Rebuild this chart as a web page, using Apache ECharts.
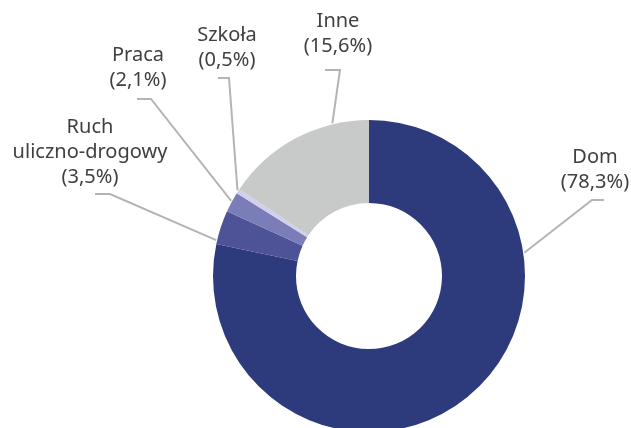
<!DOCTYPE html>
<html>
<head>
<meta charset="utf-8">
<script src="https://cdn.jsdelivr.net/npm/echarts@6/dist/echarts.min.js"></script>
<style>
  html, body { margin: 0; padding: 0; background: #fff; }
  #chart { width: 631px; height: 428px; }
</style>
</head>
<body>
<div id="chart"></div>
<script>
var categories = ["Dom", "Ruch\nuliczno-drogowy", "Praca", "Szkoła", "Inne"];
var shares = [78.3, 3.5, 2.1, 0.5, 15.6];
var colors = ["#2d3a7c", "#4d5396", "#7b7db8", "#cfcfee", "#c8c9c9"];

// hand placed labels, like the original: text anchor (bottom centre),
// leader line start angle on the ring, elbow and end of the short tail
var labelSpots = [
  { tx: 595, ty: 195, at: 81.5, elbow: [592, 200], end: [604, 200] },
  { tx: 90, ty: 190, at: 283.2, elbow: [110, 194], end: [95, 194] },
  { tx: 138, ty: 93, at: 298.6, elbow: [151, 99], end: [137, 99] },
  { tx: 227, ty: 73, at: 303.1, elbow: [229, 78], end: [218, 78] },
  { tx: 338, ty: 59, at: 346.5, elbow: [340, 70], end: [325, 70] }
];

var cx = 369, cy = 276, rIn = 73, rOut = 156;

var chart = echarts.init(document.getElementById("chart"));

chart.setOption({
  animation: false,
  color: colors,
  series: [
    {
      type: "pie",
      center: [cx, cy],
      radius: [rIn, rOut],
      startAngle: 90,
      clockwise: true,
      avoidLabelOverlap: false,
      emphasis: { disabled: true },
      label: {
        show: true,
        position: "outside",
        color: "#404040",
        fontFamily: "Noto Sans",
        fontSize: 20,
        lineHeight: 25,
        formatter: function (p) {
          return p.name + "\n(" + String(p.value).replace(".", ",") + "%)";
        }
      },
      labelLine: {
        show: true,
        lineStyle: { color: "#b4b4b4", width: 2 }
      },
      labelLayout: function (p) {
        var s = labelSpots[p.dataIndex];
        var a = s.at * Math.PI / 180;
        var start = [cx + (rOut + 1) * Math.sin(a), cy - (rOut + 1) * Math.cos(a)];
        return {
          x: s.tx,
          y: s.ty,
          align: "center",
          verticalAlign: "bottom",
          labelLinePoints: [start, s.elbow, s.end]
        };
      },
      data: categories.map(function (c, i) {
        return { name: c, value: shares[i] };
      })
    }
  ]
});
</script>
</body>
</html>
